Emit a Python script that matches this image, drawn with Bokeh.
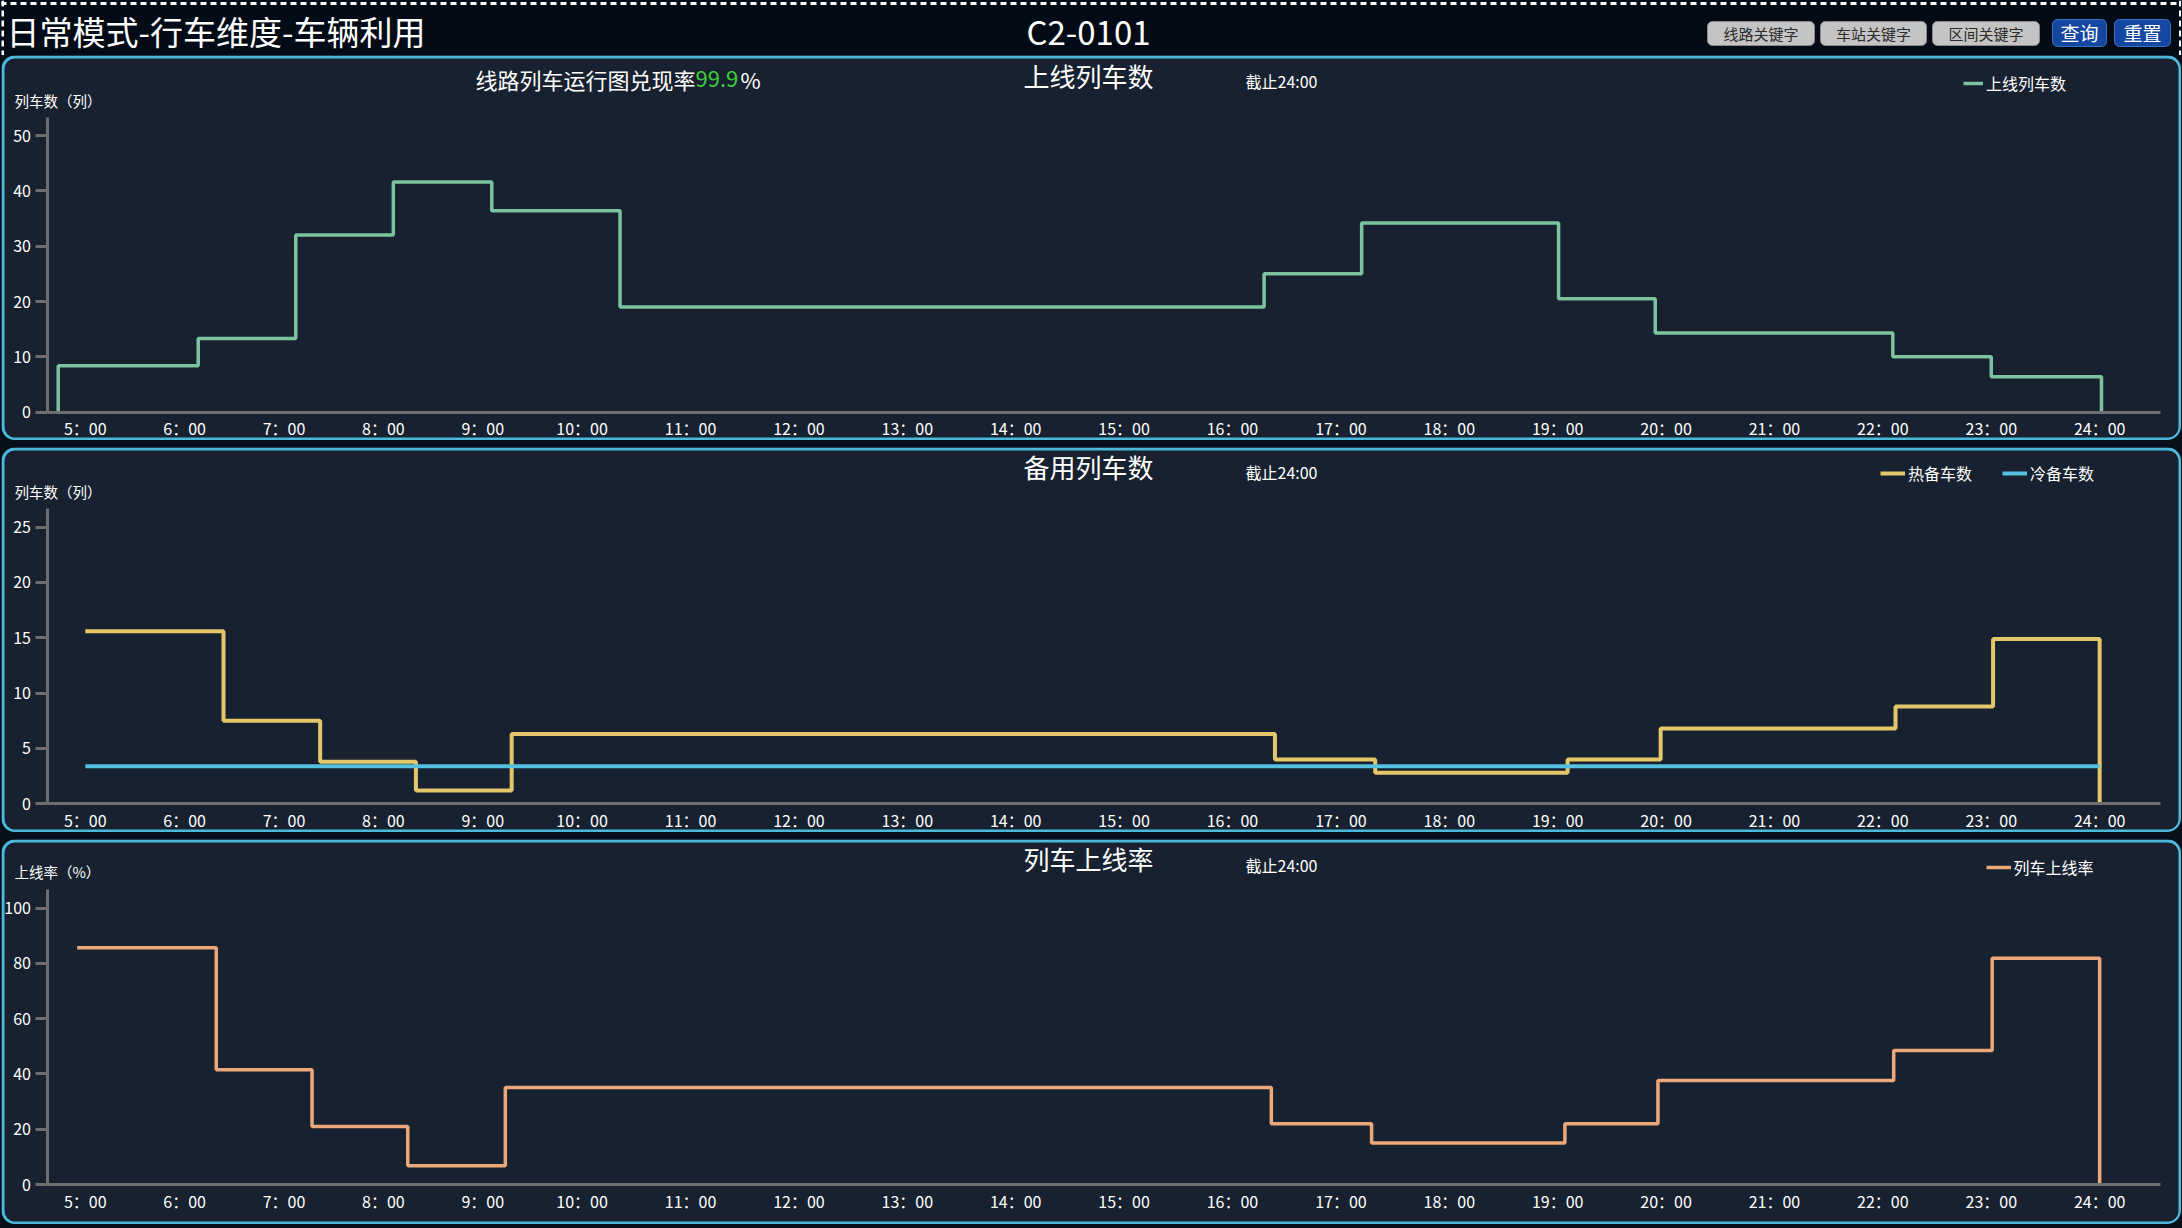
from bokeh.plotting import figure
from bokeh.layouts import column
from bokeh.models import (Range1d, FixedTicker, Legend, LegendItem, ColumnDataSource,
                          LinearAxis)
from bokeh.core.properties import value
from bokeh.embed import file_html
from bokeh.resources import INLINE

# ---------------- data ----------------
page_title = "日常模式-行车维度-车辆利用"
line_code = "C2-0101"
grey_buttons = ["线路关键字", "车站关键字", "区间关键字"]
blue_buttons = ["查询", "重置"]

fulfil_prefix = "线路列车运行图兑现率"
fulfil_rate = "99.9"
cutoff_text = "截止24:00"

hour_labels = ["5：00", "6：00", "7：00", "8：00", "9：00", "10：00", "11：00", "12：00",
               "13：00", "14：00", "15：00", "16：00", "17：00", "18：00", "19：00",
               "20：00", "21：00", "22：00", "23：00", "24：00"]
# category-axis slot of each hour label (axis is not uniform in time)
hour_slots = [0, 11, 22, 33, 44, 55, 67, 79, 91, 103, 115, 127, 139, 151, 163, 175, 187, 199, 211, 223]

# 上线列车数 (step changes: slot, value held after it)
online_x = [-3, -3, 12.5, 23.3, 34.1, 45.0, 59.2, 130.5, 141.3, 163.1, 173.8, 200.1, 211.0, 223.2]
online_y = [0, 8.4, 13.3, 32, 41.6, 36.4, 19, 25, 34.2, 20.5, 14.3, 10, 6.4, 0]

# 热备车数 / 冷备车数
hot_x = [0, 15.3, 26.0, 36.6, 47.2, 131.7, 142.8, 164.1, 174.4, 200.4, 211.2, 223.0]
hot_y = [15.6, 7.5, 3.8, 1.2, 6.3, 4.0, 2.8, 4.0, 6.8, 8.8, 14.9, 0]
cold_x = [0, 223.0]
cold_y = [3.4, 3.4]

# 列车上线率 (%)
rate_x = [-0.9, 14.5, 25.1, 35.7, 46.5, 131.3, 142.4, 163.8, 174.1, 200.2, 211.1, 223.0]
rate_y = [85.7, 41.5, 21, 6.8, 35.1, 22, 15, 22, 37.6, 48.5, 81.9, 0]

# ---------------- styles / geometry ----------------
FONT = "Noto Sans CJK SC"
HEADER_BG = "#020b16"
GAP_BG = "#07101a"
PANEL_BG = "#17212f"
BORDER = "#4bb9dc"
AXIS = "#6e6e6e"
GREEN = "#7cc4a0"
YELLOW = "#e5c76b"
BLUE = "#55c0e0"
ORANGE = "#eca77a"
RATE_GREEN = "#3bd03b"

PAGE_W = 2182
PANEL_W = 2180
PANEL_H = 385
SLOT0_PX = 84.8        # page x of slot 0
SLOT_PX = 9.033        # pixels per slot
X_AXIS_START = -4.24   # slot where the y axis sits
X_AXIS_END = 229.7


def sx(px):
    """page x pixel -> slot units"""
    return (px - SLOT0_PX) / SLOT_PX


# ---------------- header ----------------
h = figure(width=PANEL_W, height=55, x_range=Range1d(1, PAGE_W - 1), y_range=Range1d(55, 0),
           output_backend="svg", toolbar_location=None, tools="", min_border=0,
           x_axis_type=None, y_axis_type=None, background_fill_color=HEADER_BG,
           border_fill_color=HEADER_BG, outline_line_color=None, margin=(0, 1, 0, 1))

h.segment(x0=[0, 2, 2180], y0=[3, 0, 0], x1=[2182, 2, 2180], y1=[3, 55, 55],
          line_color="white", line_width=3, line_dash="6 4")

h.text(x=[6], y=[30], text=[page_title], text_font=value(FONT), text_font_size="33px",
       text_color="white", text_align="left", text_baseline="middle")
h.text(x=[1088], y=[30], text=[line_code], text_font=value(FONT), text_font_size="33px",
       text_color="white", text_align="center", text_baseline="middle")

g_left = [1707, 1820, 1932]
g_right = [1814, 1926, 2039]
b_left = [2052, 2114]
b_right = [2106, 2170]
try:
    h.quad(left=g_left, right=g_right, top=[21] * 3, bottom=[45] * 3, fill_color="#c4c4c4",
           line_color="#8a8a8a", line_width=1, border_radius=5)
    h.quad(left=b_left, right=b_right, top=[19] * 2, bottom=[46] * 2, fill_color="#1447a0",
           line_color="#3a70c8", line_width=1, border_radius=5)
except Exception:
    h.quad(left=g_left, right=g_right, top=[21] * 3, bottom=[45] * 3, fill_color="#c4c4c4",
           line_color="#8a8a8a", line_width=1)
    h.quad(left=b_left, right=b_right, top=[19] * 2, bottom=[46] * 2, fill_color="#1447a0",
           line_color="#3a70c8", line_width=1)

h.text(x=[(l + r) / 2 for l, r in zip(g_left, g_right)], y=[33] * 3, text=grey_buttons,
       text_font=value(FONT), text_font_size="15px", text_color="#2b2b2b",
       text_align="center", text_baseline="middle")
h.text(x=[(l + r) / 2 for l, r in zip(b_left, b_right)], y=[32] * 2, text=blue_buttons,
       text_font=value(FONT), text_font_size="19px", text_color="white",
       text_align="center", text_baseline="middle")


# ---------------- panels ----------------
def make_panel(top_px, zero_px, ppu, y_top, y_ticks, margin):
    """top_px: page y of panel top; zero_px: page y of value 0; ppu: pixels per unit"""
    bottom_px = top_px + PANEL_H
    yr = Range1d((zero_px - bottom_px) / ppu, (zero_px - top_px) / ppu)
    p = figure(width=PANEL_W, height=PANEL_H,
               x_range=Range1d(sx(1), sx(PAGE_W - 1)), y_range=yr,
               x_axis_type=None, y_axis_type=None,
               output_backend="svg", toolbar_location=None, tools="", min_border=0,
               background_fill_color=PANEL_BG, border_fill_color=PANEL_BG,
               outline_line_color=None, margin=margin,
               styles={"border-radius": "14px", "overflow": "hidden"})

    def sy(py):
        return (zero_px - py) / ppu

    xaxis = LinearAxis(fixed_location=0, bounds=(X_AXIS_START, X_AXIS_END),
                       ticker=FixedTicker(ticks=hour_slots),
                       major_label_overrides={s: l for s, l in zip(hour_slots, hour_labels)})
    yaxis = LinearAxis(fixed_location=X_AXIS_START, bounds=(0, y_top),
                       ticker=FixedTicker(ticks=y_ticks))
    for ax in (xaxis, yaxis):
        ax.axis_line_color = AXIS
        ax.axis_line_width = 3
        ax.major_tick_line_color = AXIS
        ax.major_tick_line_width = 3
        ax.major_tick_in = 0
        ax.minor_tick_in = 0
        ax.minor_tick_out = 0
        ax.major_label_text_color = "white"
        ax.major_label_text_font = FONT
        ax.major_label_text_font_size = "16px"
    xaxis.major_tick_out = 0
    xaxis.major_label_standoff = 4
    yaxis.major_tick_out = 12
    yaxis.major_label_standoff = 4
    p.add_layout(xaxis, "below")
    p.add_layout(yaxis, "left")

    # rounded panel border
    bl, br = sx(2.5), sx(PANEL_W - 0.5)
    bt, bb = sy(top_px + 1.5), sy(bottom_px - 1.5)
    try:
        p.quad(left=[bl], right=[br], top=[bt], bottom=[bb], fill_alpha=0,
               line_color=BORDER, line_width=3, border_radius=12)
    except Exception:
        p.quad(left=[bl], right=[br], top=[bt], bottom=[bb], fill_alpha=0,
               line_color=BORDER, line_width=3)
    return p, sy, bottom_px


def put_text(p, sy, px, py, text, size, color="white", align="left"):
    p.text(x=[sx(px)], y=[sy(py)], text=[text], text_font=value(FONT), text_font_size=size,
           text_color=color, text_align=align, text_baseline="middle")


def add_legend(p, items, glyph_left_px, center_py, bottom_px, glyph_w):
    leg = Legend(items=items, location=(glyph_left_px - 1, bottom_px - center_py - 10),
                 orientation="horizontal",
                 background_fill_alpha=0, border_line_alpha=0, padding=0, margin=0,
                 spacing=30, glyph_width=glyph_w, glyph_height=20, label_height=20,
                 label_standoff=3, label_text_color="white", label_text_font=FONT,
                 label_text_font_size="16px")
    p.add_layout(leg)


# panel 1: 上线列车数
p1, sy1, b1 = make_panel(55, 411.7, 5.534, 53.3, [0, 10, 20, 30, 40, 50], (0, 1, 0, 1))
r1 = p1.step(x="x", y="y", source=ColumnDataSource(dict(x=online_x, y=online_y)),
             mode="after", line_color=GREEN, line_width=3.5)
put_text(p1, sy1, 1088, 75, "上线列车数", "26px", align="center")
put_text(p1, sy1, 1245, 80, cutoff_text, "16px")
put_text(p1, sy1, 695, 78, fulfil_prefix, "22px", align="right")
put_text(p1, sy1, 695, 78, fulfil_rate, "22px", color=RATE_GREEN)
put_text(p1, sy1, 740, 78, "%", "22px")
put_text(p1, sy1, 14, 100, "列车数（列）", "14.5px")
add_legend(p1, [LegendItem(label="上线列车数", renderers=[r1])], 1963, 85, b1, 20)

# panel 2: 备用列车数
p2, sy2, b2 = make_panel(447, 803.3, 11.066, 26.65, [0, 5, 10, 15, 20, 25], (7, 1, 0, 1))
r_hot = p2.step(x="x", y="y", source=ColumnDataSource(dict(x=hot_x, y=hot_y)),
                mode="after", line_color=YELLOW, line_width=4)
r_cold = p2.step(x="x", y="y", source=ColumnDataSource(dict(x=cold_x, y=cold_y)),
                 mode="after", line_color=BLUE, line_width=4)
put_text(p2, sy2, 1088, 466, "备用列车数", "26px", align="center")
put_text(p2, sy2, 1245, 471, cutoff_text, "16px")
put_text(p2, sy2, 14, 491, "列车数（列）", "14.5px")
add_legend(p2, [LegendItem(label="热备车数", renderers=[r_hot]),
                LegendItem(label="冷备车数", renderers=[r_cold])], 1880, 475, b2, 25)

# panel 3: 列车上线率
p3, sy3, b3 = make_panel(839, 1184, 2.763, 106.7, [0, 20, 40, 60, 80, 100], (7, 1, 4, 1))
r3 = p3.step(x="x", y="y", source=ColumnDataSource(dict(x=rate_x, y=rate_y)),
             mode="after", line_color=ORANGE, line_width=3.5)
put_text(p3, sy3, 1088, 858, "列车上线率", "26px", align="center")
put_text(p3, sy3, 1245, 864, cutoff_text, "16px")
put_text(p3, sy3, 14, 871, "上线率（%）", "14.5px")
add_legend(p3, [LegendItem(label="列车上线率", renderers=[r3])], 1985.5, 869, b3, 25)

layout = column(h, p1, p2, p3, spacing=0, styles={"background-color": GAP_BG})

open("out.html", "w").write(file_html(layout, INLINE))
